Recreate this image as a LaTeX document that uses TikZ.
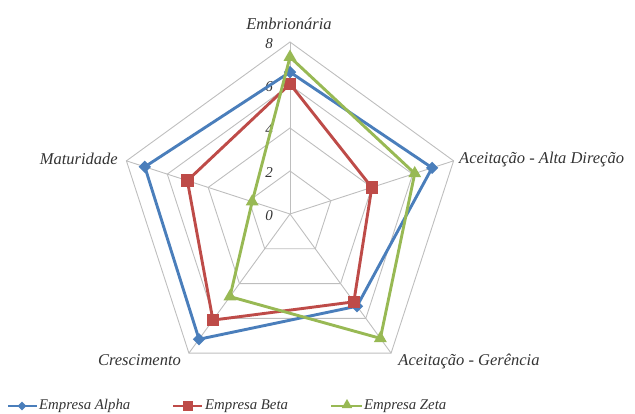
\documentclass[tikz,border=0pt]{standalone}
\usepackage{fontspec}
\setmainfont{Liberation Serif}
\usetikzlibrary{shapes.geometric}
\definecolor{cA}{HTML}{4A7EBB}
\definecolor{cB}{HTML}{BE4B48}
\definecolor{cZ}{HTML}{98B954}
\definecolor{cG}{HTML}{BEBEBE}
\begin{document}
\begin{tikzpicture}[x=1pt,y=1pt,
  gridline/.style={draw=cG, line width=0.9pt},
  serA/.style={draw=cA, line width=2.9pt, line join=round},
  serB/.style={draw=cB, line width=2.9pt, line join=round},
  serZ/.style={draw=cZ, line width=2.9pt, line join=round},
  mkA/.style={diamond, fill=cA, inner sep=0pt, minimum size=12.5pt},
  mkB/.style={rectangle, fill=cB, inner sep=0pt, minimum size=12.5pt},
  mkZ/.style={regular polygon, regular polygon sides=3, fill=cZ, inner sep=0pt, minimum size=15pt},
  lmkA/.style={diamond, fill=cA, inner sep=0pt, minimum size=9pt},
  lmkB/.style={rectangle, fill=cB, inner sep=0pt, minimum size=10pt},
  lmkZ/.style={regular polygon, regular polygon sides=3, fill=cZ, inner sep=0pt, minimum size=12pt},
  axlab/.style={font=\fontsize{16.5}{18}\selectfont\itshape, inner sep=0pt, text=black!80},
  ticklab/.style={font=\fontsize{15}{17}\selectfont\itshape, anchor=east, inner sep=0pt, text=black!80},
  leglab/.style={font=\fontsize{14.8}{16}\selectfont\itshape, anchor=west, inner sep=0pt, text=black!80}]
\useasboundingbox (0,0) rectangle (635,-414);
\coordinate (C) at (290,-214);
\def\u{21.5}
% grid rings
\foreach \v in {2,4,6,8}
  \draw[gridline, shift={(C)}] (90:{\v*\u}) -- (18:{\v*\u}) -- (-54:{\v*\u}) -- (-126:{\v*\u}) -- (162:{\v*\u}) -- cycle;
% spokes
\foreach \a/\n in {90/1,18/2,-54/3,-126/4,162/5} {
  \path[shift={(C)}] (\a:{8*\u}) coordinate (e\n);
  \draw[gridline] (C) -- (e\n);
}
% tick labels
\foreach \v in {0,2,4,6,8}
  \node[ticklab] (t\v) at ([shift={(-17,-2)}]C |- 0,{-214+\v*\u}) {\v};
% series coordinates
\foreach \n/\a/\va/\vb/\vz in {1/90/6.6/6.05/7.3, 2/18/6.95/4/6.1, 3/-54/5.3/5.05/7.15, 4/-126/7.2/6.1/4.75, 5/162/7.1/5.02/1.85} {
  \path[shift={(C)}] (\a:{\va*\u}) coordinate (a\n);
  \path[shift={(C)}] (\a:{\vb*\u}) coordinate (b\n);
  \path[shift={(C)}] (\a:{\vz*\u}) coordinate (z\n);
}
% Alpha
\draw[serA] (a1) -- (a2) -- (a3) -- (a4) -- (a5) -- cycle;
\foreach \n in {1,...,5} \node[mkA] (ma\n) at (a\n) {};
% Beta
\draw[serB] (b1) -- (b2) -- (b3) -- (b4) -- (b5) -- cycle;
\foreach \n in {1,...,5} \node[mkB] (mb\n) at (b\n) {};
% Zeta
\draw[serZ] (z1) -- (z2) -- (z3) -- (z4) -- (z5) -- cycle;
\foreach \n in {1,...,5} \node[mkZ] (mz\n) at (z\n) {};
% axis labels
\node[axlab] (l1) at (289,-24) {Embrionária};
\node[axlab, anchor=west] (l2) at (459,-159) {Aceitação - Alta Direção};
\node[axlab] (l3) at (469,-361) {Aceitação - Gerência};
\node[axlab] (l4) at (139.5,-360) {Crescimento};
\node[axlab, anchor=east] (l5) at (118,-159) {Maturidade};
% legend
\coordinate (la0) at (8,-406); \coordinate (la1) at (37,-406);
\draw[serA, line width=2.6pt] (la0) -- (la1);
\node[lmkA] (lma) at (22,-406) {};
\node[leglab] (lta) at (39,-406) {Empresa Alpha};
\coordinate (lb0) at (173,-406); \coordinate (lb1) at (202,-406);
\draw[serB, line width=2.6pt] (lb0) -- (lb1);
\node[lmkB] (lmb) at (187.5,-406) {};
\node[leglab] (ltb) at (205,-406) {Empresa Beta};
\coordinate (lz0) at (331,-406); \coordinate (lz1) at (362,-406);
\draw[serZ, line width=2.6pt] (lz0) -- (lz1);
\node[lmkZ] (lmz) at (347,-405) {};
\node[leglab] (ltz) at (364,-406) {Empresa Zeta};
\end{tikzpicture}
\end{document}
